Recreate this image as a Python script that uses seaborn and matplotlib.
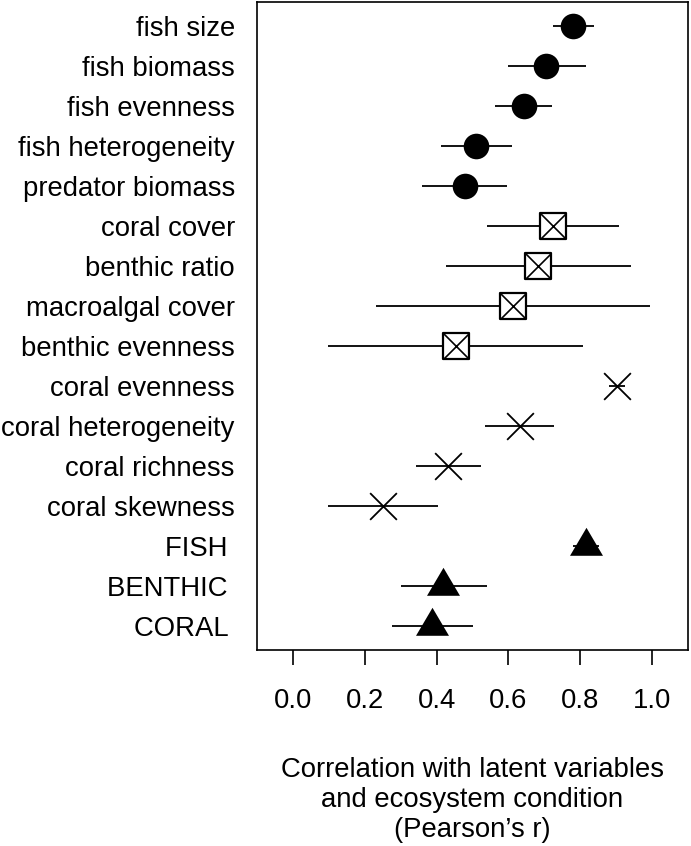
import matplotlib
matplotlib.use("Agg")
import matplotlib.pyplot as plt
from matplotlib.path import Path
import numpy as np
import pandas as pd
import seaborn as sns

# indicators, top to bottom
labels = [
    "fish size",
    "fish biomass",
    "fish evenness",
    "fish heterogeneity",
    "predator biomass",
    "coral cover",
    "benthic ratio",
    "macroalgal cover",
    "benthic evenness",
    "coral evenness",
    "coral heterogeneity",
    "coral richness",
    "coral skewness",
    "FISH ",
    "BENTHIC ",
    "CORAL ",
]
groups = ["fish"] * 5 + ["benthic"] * 4 + ["coral"] * 4 + ["latent"] * 3
estimate = [0.779, 0.706, 0.643, 0.510, 0.478,
            0.723, 0.682, 0.613, 0.453,
            0.902, 0.631, 0.433, 0.250,
            0.816, 0.419, 0.388]
lower = [0.723, 0.598, 0.564, 0.413, 0.359,
         0.541, 0.425, 0.232, 0.098,
         0.881, 0.536, 0.344, 0.097,
         0.779, 0.301, 0.277]
upper = [0.837, 0.816, 0.721, 0.609, 0.596,
         0.907, 0.941, 0.994, 0.809,
         0.924, 0.727, 0.523, 0.404,
         0.853, 0.540, 0.502]

df = pd.DataFrame({
    "label": labels,
    "group": groups,
    "r": estimate,
    "lo": lower,
    "hi": upper,
})
df["pos"] = np.arange(len(df))

sns.set_style("ticks")
plt.rcParams["font.family"] = ["Liberation Sans", "DejaVu Sans"]
plt.rcParams["font.size"] = 19.8
plt.rcParams["text.color"] = "black"
plt.rcParams["axes.labelcolor"] = "black"
plt.rcParams["xtick.color"] = "black"
plt.rcParams["ytick.color"] = "black"
plt.rcParams["axes.edgecolor"] = "black"

fig, ax = plt.subplots(figsize=(6.91, 8.46), dpi=100)
fig.subplots_adjust(left=257 / 691, right=688 / 691, top=1 - 2 / 846,
                    bottom=1 - 650 / 846)

# confidence intervals
ax.hlines(df["pos"], df["lo"], df["hi"], color="black", linewidth=1.3, zorder=1)

# triangle centred on its centroid, like R's pch 17
tri = Path([(-16.5, -9.3), (16.5, -9.3), (0, 18.7), (-16.5, -9.3)],
           [Path.MOVETO, Path.LINETO, Path.LINETO, Path.CLOSEPOLY])

fish = df[df["group"] == "fish"]
benthic = df[df["group"] == "benthic"]
coral = df[df["group"] == "coral"]
latent = df[df["group"] == "latent"]

sns.scatterplot(data=fish, x="r", y="pos", marker="o", s=340, color="black",
                linewidth=0, ax=ax, zorder=3)
sns.scatterplot(data=benthic, x="r", y="pos", marker="s", s=330, color="white",
                edgecolor="black", linewidth=1.6, ax=ax, zorder=3)
ax.scatter(benthic["r"], benthic["pos"], marker="x", s=330, color="black",
           linewidth=1.2, zorder=4)
ax.scatter(coral["r"], coral["pos"], marker="x", s=370, color="black",
           linewidth=1.3, zorder=3)
sns.scatterplot(data=latent, x="r", y="pos", marker=tri, s=724, color="black",
                linewidth=0, ax=ax, zorder=3)

ax.set_xlim(-0.1, 1.1)
ax.set_ylim(len(df) - 0.4, -0.6)
ax.set_xticks(np.arange(0, 1.01, 0.2))
ax.set_xticklabels([f"{v:.1f}" for v in np.arange(0, 1.01, 0.2)])
ax.set_yticks(df["pos"])
ax.set_yticklabels(df["label"])
ax.tick_params(axis="y", length=0, pad=16)
ax.tick_params(axis="x", length=11, width=1.2, pad=16, direction="out")
for sp in ax.spines.values():
    sp.set_linewidth(1.2)
    sp.set_color("black")

ax.set_ylabel("")
ax.set_xlabel("Correlation with latent variables\nand ecosystem condition\n(Pearson\u2019s r)",
              labelpad=31, linespacing=1.22)

fig.savefig("out.png", dpi=100)
